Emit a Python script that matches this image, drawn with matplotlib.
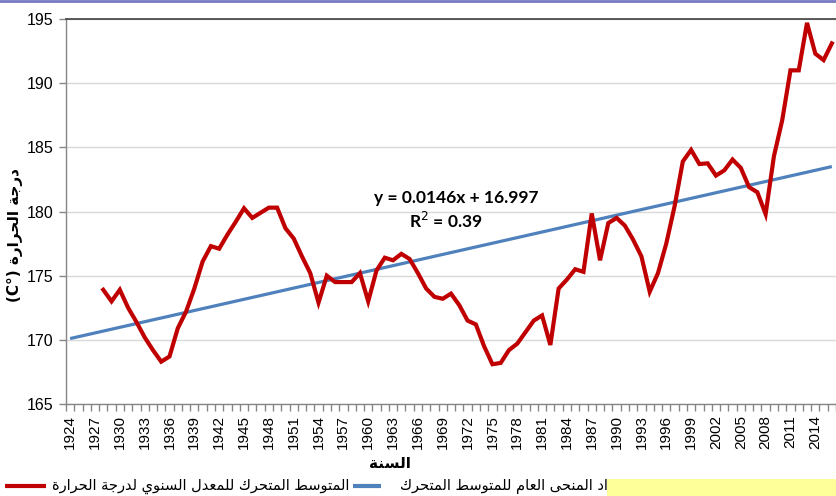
import matplotlib
matplotlib.use("Agg")
import matplotlib.pyplot as plt
from matplotlib.lines import Line2D
from matplotlib.patches import Rectangle
from matplotlib import font_manager as fm
import numpy as np

# ---------------- data ----------------
years = list(range(1928, 2017))
moving_avg = [
    173.9, 173.0, 173.9, 172.5, 171.4, 170.2, 169.2, 168.3, 168.7, 170.9,   # 1928-1937
    172.2, 174.0, 176.1, 177.3, 177.1, 178.2, 179.2, 180.25, 179.5, 179.9,  # 1938-1947
    180.3, 180.3, 178.7, 177.9, 176.5, 175.2, 172.9, 175.0, 174.5, 174.5,   # 1948-1957
    174.5, 175.2, 173.0, 175.4, 176.4, 176.2, 176.7, 176.3, 175.2, 174.0,   # 1958-1967
    173.35, 173.2, 173.6, 172.7, 171.5, 171.2, 169.5, 168.1, 168.2, 169.2,  # 1968-1977
    169.7, 170.6, 171.5, 171.9, 169.6, 174.0, 174.7, 175.5, 175.3, 179.85,  # 1978-1987
    176.2, 179.1, 179.5, 178.9, 177.8, 176.5, 173.75, 175.2, 177.5, 180.4,  # 1988-1997
    183.9, 184.8, 183.7, 183.75, 182.8, 183.2, 184.05, 183.4, 181.9, 181.5, # 1998-2007
    179.8, 184.3, 187.1, 191.0, 191.0, 194.7, 192.3, 191.8, 193.1,          # 2008-2016
]
trend_years = [1924, 2016]
trend_values = [170.1, 183.5]
category_years = list(range(1924, 2017))
tick_years = list(range(1924, 2017, 3))
y_ticks = [165, 170, 175, 180, 185, 190, 195]

equation_text = "y = 0.0146x + 16.997"
r2_text = "R$^2$ = 0.39"
x_label = "السنة"
y_label_ar = "درجة الحرارة"
y_label_unit = "(C°)"
legend_red = "المتوسط المتحرك للمعدل السنوي لدرجة الحرارة"
legend_blue = "امتداد المنحى العام للمتوسط المتحرك"

# ---------------- minimal Arabic shaping (presentation forms + RTL) ----------------
FORMS = {
    'ا': (0xFE8D, 0xFE8E, None, None),
    'ب': (0xFE8F, 0xFE90, 0xFE91, 0xFE92),
    'ة': (0xFE93, 0xFE94, None, None),
    'ت': (0xFE95, 0xFE96, 0xFE97, 0xFE98),
    'ج': (0xFE9D, 0xFE9E, 0xFE9F, 0xFEA0),
    'ح': (0xFEA1, 0xFEA2, 0xFEA3, 0xFEA4),
    'د': (0xFEA9, 0xFEAA, None, None),
    'ر': (0xFEAD, 0xFEAE, None, None),
    'ز': (0xFEAF, 0xFEB0, None, None),
    'س': (0xFEB1, 0xFEB2, 0xFEB3, 0xFEB4),
    'ط': (0xFEC1, 0xFEC2, 0xFEC3, 0xFEC4),
    'ع': (0xFEC9, 0xFECA, 0xFECB, 0xFECC),
    'ك': (0xFED9, 0xFEDA, 0xFEDB, 0xFEDC),
    'ل': (0xFEDD, 0xFEDE, 0xFEDF, 0xFEE0),
    'م': (0xFEE1, 0xFEE2, 0xFEE3, 0xFEE4),
    'ن': (0xFEE5, 0xFEE6, 0xFEE7, 0xFEE8),
    'ه': (0xFEE9, 0xFEEA, 0xFEEB, 0xFEEC),
    'و': (0xFEED, 0xFEEE, None, None),
    'ى': (0xFEEF, 0xFEF0, None, None),
    'ي': (0xFEF1, 0xFEF2, 0xFEF3, 0xFEF4),
}


def dual(c):
    return c in FORMS and FORMS[c][2] is not None


def shape(text):
    out = []
    for i, c in enumerate(text):
        if c not in FORMS:
            out.append(c)
            continue
        prev = text[i - 1] if i > 0 else ''
        nxt = text[i + 1] if i + 1 < len(text) else ''
        jp = dual(prev)
        jn = dual(c) and nxt in FORMS
        iso, fin, ini, med = FORMS[c]
        if jp and jn:
            cp = med
        elif jp:
            cp = fin
        elif jn:
            cp = ini
        else:
            cp = iso
        out.append(chr(cp))
    return ''.join(out)[::-1]


# ---------------- fonts ----------------
def have(name):
    try:
        fm.findfont(name, fallback_to_default=False)
        return True
    except Exception:
        return False

num_font = ['Liberation Sans Narrow', 'DejaVu Sans'] if have('Liberation Sans Narrow') else ['Liberation Sans', 'DejaVu Sans']
ar_font = ['DejaVu Sans']
eq_font = ['Lato', 'DejaVu Sans']

# ---------------- figure ----------------
W, H = 836, 496
fig = plt.figure(figsize=(W / 100, H / 100), dpi=100)
fig.patch.set_facecolor('white')

ax_l, ax_r, ax_t, ax_b = 66, 836, 19, 404
ax = fig.add_axes([ax_l / W, 1 - ax_b / H, (ax_r - ax_l) / W, (ax_b - ax_t) / H])

ax.plot(trend_years, trend_values, color='#4F81BD', lw=2.3, solid_capstyle='butt', zorder=3)
ax.plot(years, moving_avg, color='#C00000', lw=3.0, solid_joinstyle='miter', zorder=4)

ax.set_xlim(category_years[0] - 0.5, category_years[-1] + 0.5)
ax.set_ylim(y_ticks[0], y_ticks[-1])

ax.set_yticks(y_ticks)
ax.set_yticklabels([str(v) for v in y_ticks], family=num_font, fontsize=11.5)
ax.yaxis.grid(True, color='#D9D9D9', lw=1.0)
ax.set_axisbelow(True)

ax.set_xticks(tick_years)
ax.set_xticklabels([str(y) for y in tick_years], rotation=90, family=num_font, fontsize=11)
ax.set_xticks([y - 0.5 for y in category_years] + [category_years[-1] + 0.5], minor=True)
ax.tick_params(axis='x', which='major', length=0, pad=8, colors='black')
ax.tick_params(axis='x', which='minor', length=5, width=1, color='#868686', direction='out')
ax.tick_params(axis='y', which='major', length=5, width=1, color='#868686', pad=4, labelcolor='black')

for s in ['left', 'bottom']:
    ax.spines[s].set_color('#868686')
    ax.spines[s].set_linewidth(1.0)
ax.spines['right'].set_visible(False)
ax.spines['top'].set_color('#404040')
ax.spines['top'].set_linewidth(1.2)

# trendline label
fig.text(456 / W, 1 - 198 / H, equation_text, ha='center', va='center',
         family=eq_font, fontweight='bold', fontsize=12.5)
fig.text(446 / W, 1 - 221 / H, r2_text, ha='center', va='center',
         family=eq_font, fontweight='bold', fontsize=12.5)

# axis titles
fig.text(390 / W, 1 - 463 / H, shape(x_label), ha='center', va='center', family=ar_font,
         fontweight='bold', fontsize=11)
fig.text(15 / W, 1 - 235 / H, y_label_unit + ' ' + shape(y_label_ar), ha='center', va='center',
         rotation=90, family=ar_font, fontweight='bold', fontsize=11)

# legend (right-to-left layout)
ly = 1 - 486 / H
fig.add_artist(Line2D([5 / W, 46 / W], [ly, ly], color='#C00000', lw=3.0, solid_capstyle='butt'))
fig.text(349 / W, ly, shape(legend_red), ha='right', va='center', family=ar_font, fontsize=10.5)
fig.add_artist(Line2D([353 / W, 381 / W], [ly, ly], color='#4F81BD', lw=3.0, solid_capstyle='butt'))
fig.text(400 / W, ly, shape(legend_blue), ha='left', va='center', family=ar_font, fontsize=10.5,
         zorder=1)
fig.add_artist(Rectangle((607 / W, 0), (836 - 607) / W, 17 / H, transform=fig.transFigure,
                         facecolor='#FFFF99', edgecolor='none', zorder=5))

# purple border line at the very top
fig.add_artist(Line2D([0, 1], [1 - 1 / H, 1 - 1 / H], color='#7878C4', lw=2.0))

fig.savefig('out.png', dpi=100, facecolor='white')
